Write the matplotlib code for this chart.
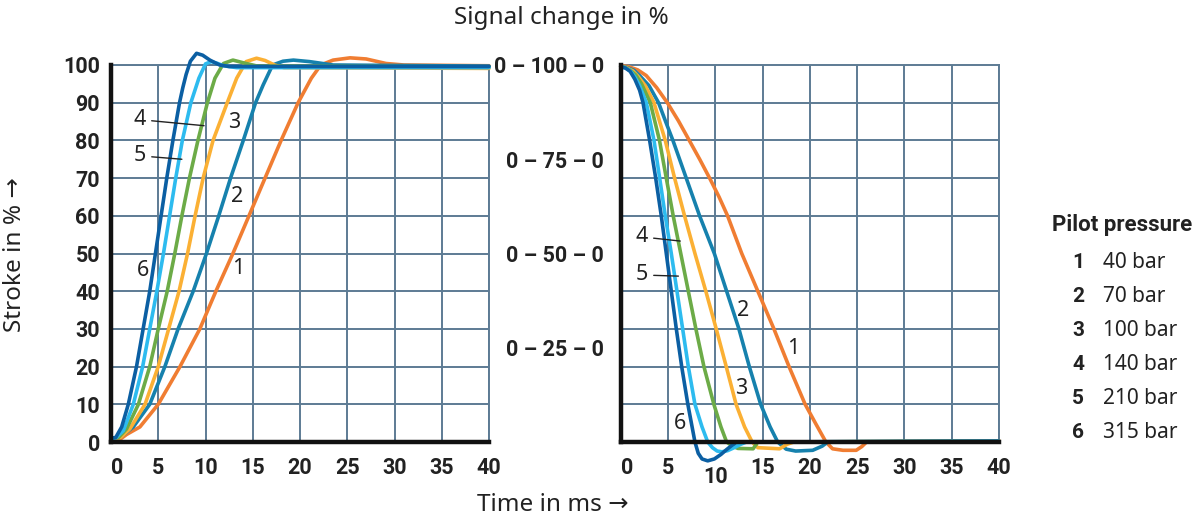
import matplotlib
matplotlib.use("Agg")
import matplotlib.pyplot as plt
from matplotlib.transforms import ScaledTranslation

plt.rcParams['font.family'] = ['Noto Sans', 'DejaVu Sans']

# pilot pressure legend
curve_ids = ['1', '2', '3', '4', '5', '6']
pressures = ['40 bar', '70 bar', '100 bar', '140 bar', '210 bar', '315 bar']
colors = ['#f07d32', '#1681ad', '#fbb034', '#6cab47', '#2dbbef', '#0b5fa3']

# stroke rise (left chart), time in ms / stroke in %
up_t1 = [0, 1.0, 1.65, 3.06, 5.0, 7.3, 9.4, 11.1, 12.9, 14.6, 16.3, 18.0, 19.8, 21.2, 22.2, 23.5, 25.3, 27.0, 29.1, 31, 40]
up_v1 = [0.6, 0.8, 2, 4, 10, 20, 30, 40, 50, 60, 70, 80, 90, 96.5, 100, 101.3, 101.9, 101.6, 100.4, 100, 99.8]
up_t2 = [0, 1.0, 2.36, 4.1, 5.7, 7.1, 8.7, 10.1, 11.4, 12.65, 14.0, 15.3, 16.1, 17.1, 18.2, 19.3, 21.0, 23.5, 40]
up_v2 = [1, 1.3, 4, 10, 20, 30, 40, 50, 60, 70, 80, 90, 94.7, 100, 101, 101.3, 100.9, 100, 99.7]
up_t3 = [0, 1.0, 2.0, 3.6, 5.0, 6.1, 7.2, 8.1, 8.9, 9.75, 10.8, 12.3, 13.3, 14.3, 15.4, 16.3, 17.3, 18.3, 40]
up_v3 = [1, 1.2, 3.5, 10, 20, 30, 40, 50, 60, 70, 80, 90, 96.5, 100.9, 101.8, 101.2, 100, 99.3, 99.1]
up_t4 = [0, 0.8, 1.65, 2.9, 4.1, 5.0, 5.95, 6.75, 7.5, 8.3, 9.2, 10.2, 11.0, 11.9, 12.9, 14.3, 15.5, 40]
up_v4 = [1, 1.2, 3.5, 10, 20, 30, 40, 50, 60, 70, 80, 90, 96.5, 100.4, 101.3, 100.4, 99.7, 99.5]
up_t5 = [0, 0.5, 1.3, 2.36, 3.35, 4.1, 4.85, 5.55, 6.2, 6.85, 7.55, 8.45, 9.3, 10.0, 10.6, 11.3, 11.9, 13.3, 40]
up_v5 = [1, 1.1, 3, 10, 20, 30, 40, 50, 60, 70, 80, 90, 96.5, 100.3, 100.9, 100.4, 99.8, 99.3, 99.3]
up_t6 = [0, 0.5, 1.13, 1.83, 2.7, 3.4, 4.1, 4.7, 5.3, 5.9, 6.55, 7.25, 7.6, 7.95, 8.4, 9.05, 9.7, 10.46, 11.5, 12.5, 40]
up_v6 = [1, 1.2, 4, 10, 20, 30, 40, 50, 60, 70, 80, 90, 94, 97.5, 101, 103.1, 102.6, 101.3, 100, 99.6, 99.6]

# stroke fall (right chart)
dn_t1 = [0, 0.8, 1.8, 2.7, 3.8, 4.93, 6.1, 7.25, 8.35, 9.4, 10.4, 11.3, 12.05, 12.8, 14.5, 16.2, 17.8, 19.5, 20.7, 21.7, 22.4, 23.5, 24.9, 25.5, 26, 40]
dn_v1 = [99.8, 99.6, 98.7, 97.2, 94, 90, 85.2, 80, 75, 70, 65, 60, 55, 50, 40, 30, 20, 10, 4.5, 0, -1.8, -2.2, -2.2, -1.2, 0, 0.3]
dn_t2 = [0, 0.6, 1.4, 2.0, 3.0, 4.0, 4.75, 5.52, 6.93, 8.34, 9.9, 11.2, 12.5, 13.6, 14.8, 15.8, 16.6, 17.5, 18.5, 20.3, 21.3, 21.9, 40]
dn_v2 = [99.6, 99.4, 98.6, 97.2, 94.5, 90, 85, 80, 70, 60, 50, 40, 30, 20, 10, 4, 0, -1.9, -2.4, -2.2, -1.1, 0, 0.2]
dn_t3 = [0, 0.6, 1.3, 1.83, 2.6, 3.52, 4.71, 5.7, 6.75, 7.85, 9.0, 10.1, 11.16, 12.2, 13.1, 13.9, 14.5, 16.8, 17.6, 18.3, 40]
dn_v3 = [99.6, 99.3, 98.4, 97, 94.5, 90, 80, 70, 60, 50, 40, 30, 20, 10, 4, 0, -1.5, -1.8, -0.6, 0, 0.3]
dn_t4 = [0, 0.5, 1.0, 1.6, 2.2, 3.13, 4.1, 4.82, 5.55, 6.35, 7.15, 7.95, 8.8, 9.85, 10.6, 11.2, 11.9, 12.4, 14.0, 14.5, 40]
dn_v4 = [99.6, 99.3, 98.6, 97.3, 95, 90, 80, 70, 60, 50, 40, 30, 20, 10, 4, 0, -1.2, -1.7, -1.8, 0, 0.2]
dn_t5 = [0, 0.5, 1.0, 1.5, 2.0, 2.71, 3.52, 4.12, 4.71, 5.35, 5.95, 6.55, 7.15, 7.85, 8.6, 9.2, 9.7, 10.2, 10.7, 11.3, 12.0, 12.7, 13.3, 40]
dn_v5 = [99.6, 99.2, 98.5, 96.8, 94.5, 90, 80, 70, 60, 50, 40, 30, 20, 10, 4, 0, -1.5, -2.4, -2.6, -2.3, -1.5, -0.6, 0, 0.2]
dn_t6 = [0, 0.5, 1.0, 1.5, 2.0, 2.36, 3.06, 3.7, 4.29, 4.82, 5.35, 5.88, 6.45, 7.1, 7.85, 8.2, 8.6, 9.2, 9.9, 10.6, 11.2, 11.8, 12.3, 40]
dn_v6 = [99.6, 99.2, 98.3, 96.2, 93.3, 90, 80, 70, 60, 50, 40, 30, 20, 10, 0, -3, -4.5, -5, -4.5, -3.3, -2, -0.8, 0, 0.2]

up_t = [up_t1, up_t2, up_t3, up_t4, up_t5, up_t6]
up_v = [up_v1, up_v2, up_v3, up_v4, up_v5, up_v6]
dn_t = [dn_t1, dn_t2, dn_t3, dn_t4, dn_t5, dn_t6]
dn_v = [dn_v1, dn_v2, dn_v3, dn_v4, dn_v5, dn_v6]

x_ticks = list(range(0, 41, 5))
y_ticks = list(range(0, 101, 10))
signal_ticks = [25, 50, 75, 100]
signal_labels = ['0 – 25 – 0', '0 – 50 – 0', '0 – 75 – 0', '0 – 100 – 0']

# curve labels: (text, label pos, leader end or None)
up_notes = [('4', (3.07, 85.5), (9.85, 83.9)), ('3', (13.0, 84.7), None),
            ('5', (3.07, 75.9), (7.5, 75.0)), ('2', (13.3, 65.2), None),
            ('6', (3.4, 45.4), None), ('1', (13.5, 45.9), None)]
dn_notes = [('4', (2.25, 54.4), (6.3, 53.3)), ('5', (2.25, 44.3), (6.1, 44.0)),
            ('2', (12.97, 35.0), None), ('1', (18.2, 24.9), None),
            ('3', (12.7, 14.3), None), ('6', (6.27, 4.8), None)]

grid_col = '#5d7b94'
text_col = '#222222'
bold_family = ['Roboto', 'DejaVu Sans']
tick_font = dict(family=bold_family, weight='bold', size=15.5)

fig = plt.figure(figsize=(12.02, 5.19), dpi=100)
ax1 = fig.add_axes([0.09235, 0.14836, 0.31448, 0.7264])
ax2 = fig.add_axes([0.51639, 0.14836, 0.31473, 0.7264])


def style_axes(ax):
    ax.set_xlim(0, 40)
    ax.set_ylim(0, 100)
    ax.set_xticks(x_ticks)
    ax.set_xticklabels([str(x) for x in x_ticks], **tick_font)
    ax.tick_params(length=0, which='both', colors=text_col)
    ax.tick_params(axis='x', pad=11)
    ax.grid(axis='x', which='major', color=grid_col, lw=1.4)
    for s in ['left', 'bottom']:
        ax.spines[s].set_color('#111111')
        ax.spines[s].set_linewidth(3.2)
        ax.spines[s].set_zorder(5)
    for s in ['right', 'top']:
        ax.spines[s].set_color(grid_col)
        ax.spines[s].set_linewidth(1.4)
    ax.set_axisbelow(True)
    # first label sits right of the thick spine
    lbl = ax.get_xticklabels()[0]
    lbl.set_transform(lbl.get_transform() + ScaledTranslation(0.06, 0, fig.dpi_scale_trans))


style_axes(ax1)
ax1.set_yticks(y_ticks)
ax1.set_yticklabels([str(y) for y in y_ticks], **tick_font)
ax1.tick_params(axis='y', pad=8)
ax1.grid(axis='y', which='major', color=grid_col, lw=1.4)

style_axes(ax2)
ax2.set_yticks(signal_ticks)
ax2.set_yticklabels(signal_labels, **tick_font)
ax2.set_yticks(y_ticks, minor=True)
ax2.tick_params(axis='y', pad=12)
ax2.grid(axis='y', which='minor', color=grid_col, lw=1.4)
ax2.xaxis.get_major_ticks()[2].set_pad(17)

for i in range(6):
    ax1.plot(up_t[i], up_v[i], color=colors[i], lw=2.6, clip_on=False,
             solid_joinstyle='round', solid_capstyle='round', zorder=3)
    ax2.plot(dn_t[i], dn_v[i], color=colors[i], lw=2.6, clip_on=False,
             solid_joinstyle='round', solid_capstyle='round', zorder=3)

for ax, notes in [(ax1, up_notes), (ax2, dn_notes)]:
    for txt, pos, tip in notes:
        if tip is None:
            ax.text(pos[0], pos[1], txt, ha='center', va='center', fontsize=15.5,
                    color=text_col, zorder=4)
        else:
            ax.annotate(txt, xy=tip, xytext=pos, ha='center', va='center',
                        fontsize=15.5, color=text_col, zorder=4,
                        arrowprops=dict(arrowstyle='-', color=text_col, lw=1.0,
                                        shrinkA=2, shrinkB=0))

fig.text(561 / 1202, 1 - 18 / 519, 'Signal change in %', ha='center', va='center',
         fontsize=17.5, color=text_col)
fig.text(553 / 1202, 1 - 505 / 519, 'Time in ms →', ha='center', va='center',
         fontsize=17.5, color=text_col)
fig.text(15 / 1202, 1 - 255 / 519, 'Stroke in % →', ha='center', va='center',
         rotation=90, fontsize=17.5, color=text_col)

fig.text(1052 / 1202, 1 - 225 / 519, 'Pilot pressure', ha='left', va='center',
         fontsize=16, weight='bold', family=bold_family, color=text_col)
for i in range(6):
    y = 1 - (262 + i * 34.2) / 519
    fig.text(1078 / 1202, y, curve_ids[i], ha='center', va='center',
             fontsize=15, weight='bold', family=bold_family, color=text_col)
    fig.text(1103 / 1202, y, pressures[i], ha='left', va='center',
             fontsize=15, color=text_col)

fig.savefig('out.png', dpi=100)
